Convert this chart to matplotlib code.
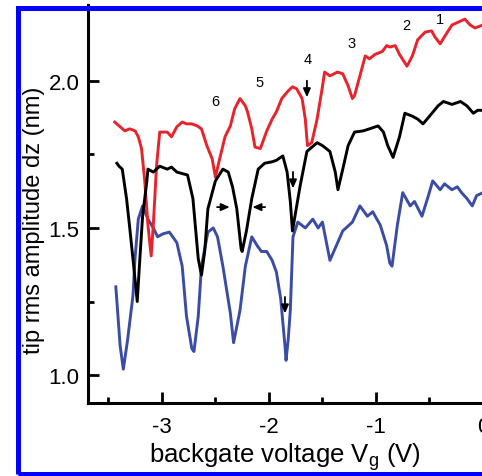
import matplotlib
matplotlib.use("Agg")
import matplotlib.pyplot as plt
from matplotlib.patches import Rectangle

plt.rcParams['font.family'] = ['Liberation Sans', 'DejaVu Sans']

# Backgate voltage (V) and tip rms amplitude dz (nm) for the three traces
red_x = [-3.44, -3.39, -3.346, -3.30, -3.25, -3.22, -3.19, -3.16, -3.13, -3.10,
         -3.08, -3.05, -3.02, -2.95, -2.91, -2.86, -2.81, -2.77, -2.72, -2.67,
         -2.63, -2.58, -2.53, -2.50, -2.46, -2.41, -2.36, -2.32, -2.27, -2.22,
         -2.20, -2.16, -2.13, -2.08, -2.06, -2.02, -1.97, -1.93, -1.88, -1.82,
         -1.78, -1.74, -1.69, -1.66, -1.64, -1.60, -1.55, -1.50, -1.48, -1.43,
         -1.36, -1.31, -1.26, -1.22, -1.20, -1.15, -1.10, -1.06, -1.01, -0.94,
         -0.90, -0.87, -0.82, -0.78, -0.71, -0.66, -0.61, -0.54, -0.48, -0.45,
         -0.40, -0.36, -0.29, -0.23, -0.17, -0.12, -0.075, 0.0]
red_y = [1.86, 1.844, 1.83, 1.837, 1.83, 1.81, 1.77, 1.66, 1.51, 1.405,
         1.51, 1.71, 1.826, 1.826, 1.81, 1.844, 1.86, 1.854, 1.854, 1.847,
         1.837, 1.78, 1.735, 1.673, 1.735, 1.81, 1.847, 1.905, 1.94, 1.915,
         1.895, 1.837, 1.775, 1.77, 1.79, 1.83, 1.87, 1.895, 1.94, 1.966,
         1.98, 1.973, 1.94, 1.87, 1.78, 1.79, 1.87, 1.98, 2.03, 2.017,
         2.03, 2.024, 1.983, 1.94, 1.95, 2.017, 2.085, 2.075, 2.09, 2.10,
         2.12, 2.115, 2.12, 2.09, 2.05, 2.085, 2.14, 2.166, 2.17, 2.15,
         2.126, 2.15, 2.19, 2.20, 2.21, 2.19, 2.18, 2.19]

black_x = [-3.42, -3.40, -3.37, -3.33, -3.30, -3.27, -3.23, -3.21, -3.18, -3.14,
           -3.13, -3.08, -3.02, -2.95, -2.91, -2.86, -2.80, -2.76, -2.71, -2.66,
           -2.63, -2.60, -2.57, -2.50, -2.43, -2.38, -2.34, -2.30, -2.26, -2.25,
           -2.21, -2.16, -2.10, -2.04, -1.97, -1.93, -1.87, -1.83, -1.80, -1.78,
           -1.71, -1.645, -1.55, -1.50, -1.43, -1.38, -1.355, -1.31, -1.26, -1.20,
           -1.12, -1.06, -0.98, -0.93, -0.89, -0.84, -0.78, -0.73, -0.66, -0.61,
           -0.56, -0.50, -0.42, -0.37, -0.29, -0.21, -0.15, -0.09, -0.05, 0.0]
black_y = [1.72, 1.71, 1.70, 1.60, 1.50, 1.395, 1.25, 1.37, 1.54, 1.66,
           1.70, 1.69, 1.71, 1.70, 1.707, 1.69, 1.684, 1.68, 1.60, 1.395,
           1.34, 1.42, 1.565, 1.66, 1.70, 1.69, 1.64, 1.565, 1.43, 1.42,
           1.49, 1.60, 1.70, 1.72, 1.725, 1.73, 1.745, 1.69, 1.59, 1.49,
           1.64, 1.76, 1.79, 1.78, 1.76, 1.69, 1.63, 1.70, 1.78, 1.826,
           1.83, 1.837, 1.847, 1.826, 1.78, 1.74, 1.81, 1.89, 1.88, 1.87,
           1.854, 1.88, 1.915, 1.93, 1.92, 1.93, 1.915, 1.89, 1.90, 1.90]

blue_x = [-3.43, -3.42, -3.39, -3.36, -3.32, -3.27, -3.25, -3.22, -3.18, -3.13,
          -3.08, -3.04, -2.99, -2.93, -2.86, -2.81, -2.77, -2.72, -2.70, -2.66,
          -2.63, -2.57, -2.52, -2.48, -2.43, -2.36, -2.33, -2.27, -2.22, -2.16,
          -2.11, -2.07, -2.02, -1.97, -1.93, -1.89, -1.85, -1.84, -1.82, -1.80,
          -1.775, -1.73, -1.66, -1.59, -1.54, -1.50, -1.43, -1.37, -1.31, -1.22,
          -1.15, -1.08, -1.03, -0.96, -0.90, -0.87, -0.85, -0.80, -0.75, -0.68,
          -0.64, -0.57, -0.51, -0.47, -0.40, -0.36, -0.29, -0.24, -0.20, -0.15,
          -0.10, -0.06, 0.0]
blue_y = [1.30, 1.25, 1.10, 1.02, 1.12, 1.27, 1.40, 1.53, 1.575, 1.53,
          1.50, 1.47, 1.48, 1.486, 1.45, 1.37, 1.20, 1.09, 1.08, 1.20,
          1.37, 1.486, 1.50, 1.47, 1.37, 1.21, 1.11, 1.22, 1.37, 1.47,
          1.44, 1.42, 1.42, 1.39, 1.35, 1.26, 1.10, 1.05, 1.12, 1.22,
          1.47, 1.52, 1.50, 1.53, 1.50, 1.52, 1.39, 1.44, 1.49, 1.52,
          1.575, 1.54, 1.555, 1.51, 1.44, 1.38, 1.37, 1.51, 1.62, 1.575,
          1.59, 1.54, 1.61, 1.66, 1.63, 1.65, 1.63, 1.64, 1.62, 1.60,
          1.575, 1.61, 1.62]

# Level numbers above the red trace
level_labels = ['1', '2', '3', '4', '5', '6']
level_x = [-0.40, -0.72, -1.23, -1.64, -2.09, -2.50]
level_y = [2.21, 2.19, 2.13, 2.075, 1.996, 1.93]

# Downward arrows marking dips (x, y of arrow tip)
down_x = [-1.645, -1.775, -1.85]
down_y = [1.935, 1.625, 1.20]

# Width marker arrows on the black trace
width_y = 1.571
width_left = -2.34
width_right = -2.18

x_ticks = [-3, -2, -1, 0]
y_ticks = [1.0, 1.5, 2.0]

W, H = 482, 477
fig = plt.figure(figsize=(W / 100, H / 100), dpi=100)
ax = fig.add_axes([88 / W, (H - 404) / H, (483 - 88) / W, (404 - 6) / H])

red_c = '#e8232b'
blue_c = '#3a4ca6'
lw = 2.1
ax.plot(blue_x, blue_y, color=blue_c, lw=lw, solid_joinstyle='round')
ax.plot(red_x, red_y, color=red_c, lw=lw, solid_joinstyle='round')
ax.plot(black_x, black_y, color='black', lw=lw, solid_joinstyle='round')

ax.set_xlim(-3.69, 0.0)
ax.set_ylim(0.905, 2.258)

ax.set_xticks(x_ticks)
ax.set_xticklabels([f'{v:g}' for v in x_ticks])
ax.set_xticks([-3.5, -2.5, -1.5, -0.5], minor=True)
ax.set_yticks(y_ticks)
ax.set_yticklabels([f'{v:.1f}' for v in y_ticks])
ax.set_yticks([1.25, 1.75], minor=True)
ax.tick_params(which='major', direction='in', length=8, width=2, labelsize=16)
ax.tick_params(which='minor', direction='in', length=4, width=2)
ax.tick_params(axis='x', which='major', pad=9.5)
ax.tick_params(axis='y', which='major', pad=6)
ax.tick_params(axis='y', which='both', right=False)
ax.tick_params(axis='x', which='both', top=False)

for side in ('top', 'right'):
    ax.spines[side].set_visible(False)
for side in ('left', 'bottom'):
    ax.spines[side].set_linewidth(2.2)

fig.text(285 / W, 1 - 463 / H, 'backgate voltage V$_\\mathregular{g}$ (V)',
         fontsize=18.5, ha='center', va='baseline')
fig.text(34 / W, 1 - 220 / H, 'tip rms amplitude dz (nm)', fontsize=17,
         rotation=90, ha='center', va='center')

for t, x, y in zip(level_labels, level_x, level_y):
    ax.text(x, y, t, fontsize=10.5, ha='center', va='center')

arrow_style = dict(arrowstyle='-|>,head_length=0.5,head_width=0.22',
                   color='black', lw=1.3)
for x, y in zip(down_x, down_y):
    ax.annotate('', xy=(x, y), xytext=(x, y + 0.075), arrowprops=arrow_style)

ax.annotate('', xy=(width_left, width_y), xytext=(width_left - 0.17, width_y),
            arrowprops=arrow_style)
ax.annotate('', xy=(width_right, width_y), xytext=(width_right + 0.17, width_y),
            arrowprops=arrow_style)

# Blue border around the panel
frame = Rectangle((17.5 / W, 2.5 / H), 1.2, (H - 8.5 - 2.5) / H,
                  transform=fig.transFigure, fill=False, edgecolor='#0000ff',
                  lw=5 * 72 / 100, zorder=5)
fig.patches.append(frame)

fig.savefig('out.png', dpi=100)
